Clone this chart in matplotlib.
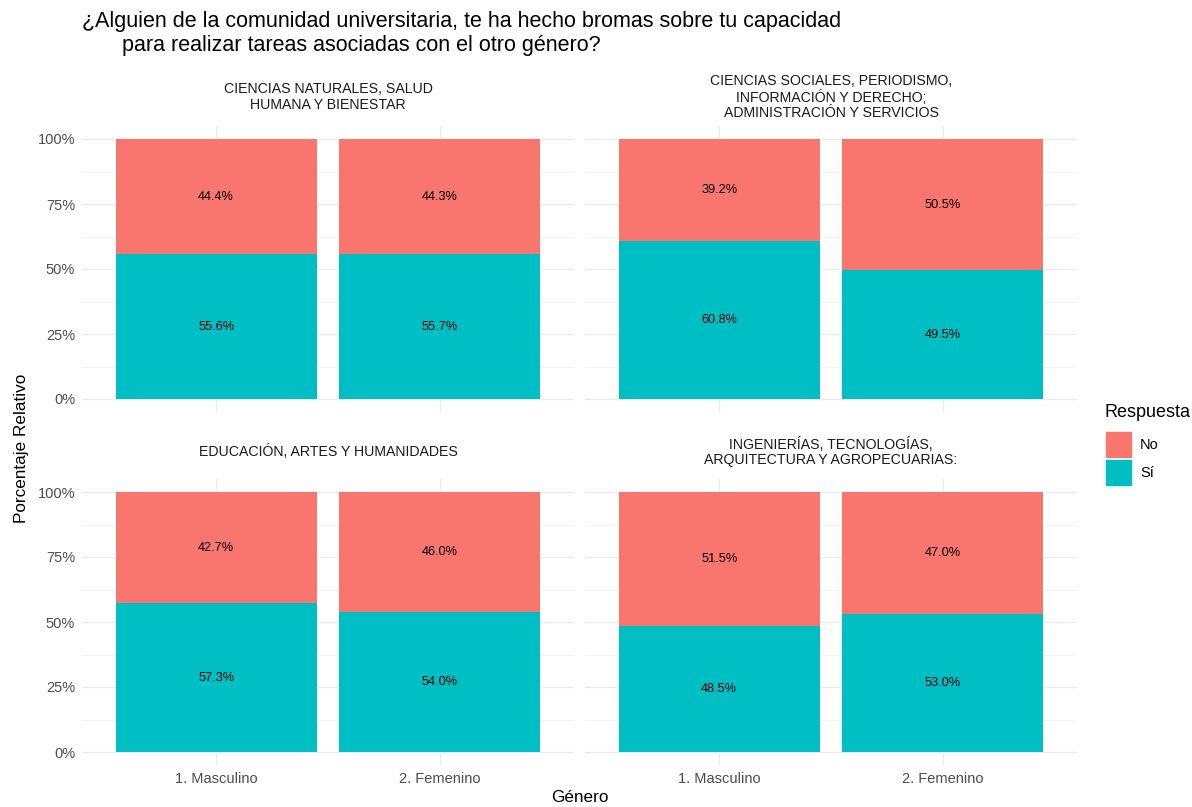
import matplotlib.pyplot as plt
import numpy as np

plt.rcParams['font.family'] = ['Liberation Sans', 'DejaVu Sans']

areas = [
    "CIENCIAS NATURALES, SALUD\nHUMANA Y BIENESTAR",
    "CIENCIAS SOCIALES, PERIODISMO,\nINFORMACIÓN Y DERECHO;\nADMINISTRACIÓN Y SERVICIOS",
    "EDUCACIÓN, ARTES Y HUMANIDADES",
    "INGENIERÍAS, TECNOLOGÍAS,\nARQUITECTURA Y AGROPECUARIAS:",
]
generos = ["1. Masculino", "2. Femenino"]
# porcentaje "Sí" por área y género (Masculino, Femenino)
si_pct = [
    [55.6, 55.7],
    [60.8, 49.5],
    [57.3, 54.0],
    [48.5, 53.0],
]
no_pct = [
    [44.4, 44.3],
    [39.2, 50.5],
    [42.7, 46.0],
    [51.5, 47.0],
]

col_no = "#F8766D"
col_si = "#00BFC4"
W, H = 1192, 807

fig = plt.figure(figsize=(W / 100, H / 100), dpi=100)


def box(x0, y0, x1, y1):
    return [x0 / W, 1 - y1 / H, (x1 - x0) / W, (y1 - y0) / H]


panels = [(82, 126, 574, 412), (585, 126, 1077, 412),
          (82, 479, 574, 765), (585, 479, 1077, 765)]
strip_y = [97, 97, 452, 452]

x = np.arange(1, len(generos) + 1)
for i, (x0, y0, x1, y1) in enumerate(panels):
    ax = fig.add_axes(box(x0, y0, x1, y1))
    si = np.array(si_pct[i]) / 100
    no = np.array(no_pct[i]) / 100
    ax.bar(x, si, width=0.9, color=col_si, zorder=3)
    ax.bar(x, no, width=0.9, bottom=si, color=col_no, zorder=3)
    for xi, s, n in zip(x, si, no):
        ax.text(xi, s / 2, f"{s*100:.1f}%", ha='center', va='center', fontsize=9.2, zorder=4)
        ax.text(xi, s + n / 2, f"{n*100:.1f}%", ha='center', va='center', fontsize=9.2, zorder=4)
    ax.set_xlim(0.4, 2.6)
    ax.set_ylim(-0.05, 1.05)
    ax.set_yticks([0, 0.25, 0.5, 0.75, 1.0])
    ax.set_yticks([0.125, 0.375, 0.625, 0.875], minor=True)
    ax.set_xticks(x)
    ax.grid(which='major', color='#EBEBEB', linewidth=1.0, zorder=0)
    ax.grid(which='minor', axis='y', color='#F2F2F2', linewidth=0.6, zorder=0)
    for s in ax.spines.values():
        s.set_visible(False)
    ax.tick_params(which='both', length=0, labelsize=10.5, labelcolor='#4D4D4D', pad=5)
    if i % 2 == 0:
        ax.set_yticklabels(["0%", "25%", "50%", "75%", "100%"])
    else:
        ax.set_yticklabels([])
    if i >= 2:
        ax.set_xticklabels(generos)
    else:
        ax.set_xticklabels([])
    fig.text((x0 + x1) / 2 / W, 1 - strip_y[i] / H, areas[i], ha='center', va='center',
             fontsize=10.2, color='#1A1A1A', linespacing=1.1)

fig.text(82 / W, 1 - 22 / H, "¿Alguien de la comunidad universitaria, te ha hecho bromas sobre tu capacidad",
         ha='left', va='center', fontsize=15.5)
fig.text(122 / W, 1 - 45 / H, "para realizar tareas asociadas con el otro género?",
         ha='left', va='center', fontsize=15.5)

fig.text(22 / W, 1 - 448 / H, "Porcentaje Relativo", rotation=90, ha='center', va='center', fontsize=12.3)
fig.text(580 / W, 1 - 798 / H, "Género", ha='center', va='center', fontsize=12.3)

# leyenda
fig.text(1104 / W, 1 - 413 / H, "Respuesta", ha='left', va='center', fontsize=13)
for j, (lab, c) in enumerate([("No", col_no), ("Sí", col_si)]):
    ky = 432 + j * 28
    fig.patches.append(plt.Rectangle(((1106) / W, 1 - (ky + 25) / H), 25 / W, 25 / H,
                                     transform=fig.transFigure, color=c, figure=fig))
    fig.text(1140 / W, 1 - (ky + 13) / H, lab, ha='left', va='center', fontsize=10.5)

fig.savefig("out.png", dpi=100, facecolor='white')
